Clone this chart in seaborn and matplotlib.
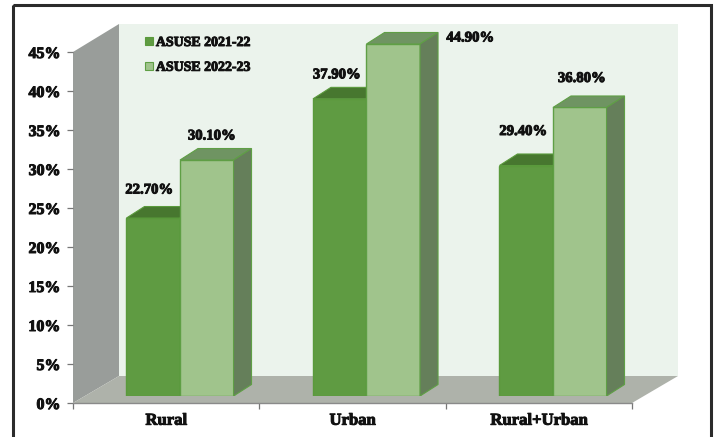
import matplotlib
matplotlib.use("Agg")
import matplotlib.pyplot as plt
import matplotlib.patheffects as pe
from matplotlib.patches import Polygon, Rectangle
from matplotlib.lines import Line2D
import pandas as pd
import seaborn as sns

areas = ["Rural", "Urban", "Rural+Urban"]
survey_names = ["ASUSE 2021-22", "ASUSE 2022-23"]
share_2021 = [22.7, 37.9, 29.4]
share_2022 = [30.1, 44.9, 36.8]
y_ticks = [0, 5, 10, 15, 20, 25, 30, 35, 40, 45]

FRONT = {"ASUSE 2021-22": "#5f9b42", "ASUSE 2022-23": "#a0c48c"}
TOP = {"ASUSE 2021-22": "#47772f", "ASUSE 2022-23": "#6f9462"}
SIDE = {"ASUSE 2021-22": "#47772f", "ASUSE 2022-23": "#657f5a"}
EDGE = {"ASUSE 2021-22": "#5a9a3c", "ASUSE 2022-23": "#5f9f45"}

W, H = 716, 437
sns.set_theme(style="white")
plt.rcParams["font.family"] = ["Liberation Serif", "DejaVu Serif"]
plt.rcParams["font.weight"] = "bold"

df = pd.DataFrame({
    "area": areas * 2,
    "share": share_2021 + share_2022,
    "survey": [survey_names[0]] * 3 + [survey_names[1]] * 3,
})

fig = plt.figure(figsize=(W / 100, H / 100), dpi=100, facecolor="white")


def box(left, top, right, bottom):
    """Axes rectangle from pixel edges measured from the top-left corner."""
    return [left / W, 1 - bottom / H, (right - left) / W, (bottom - top) / H]


heavy = [pe.withStroke(linewidth=0.7, foreground="#111111")]

# Room behind the bars: back wall, side wall, floor and outer frame
room = fig.add_axes([0, 0, 1, 1], zorder=0)
room.set_xlim(0, W)
room.set_ylim(H, 0)
room.axis("off")
room.add_patch(Rectangle((119, 24), 559, 352, fc="#ebf3ec", ec="none"))
room.add_patch(Polygon([(73, 52), (119, 24), (119, 376), (73, 403)], fc="#999d9a", ec="none"))
room.add_patch(Polygon([(73, 403), (119, 376), (678, 376), (632, 403)], fc="#aeb2aa", ec="none"))
room.add_patch(Rectangle((12.5, 5), 698, 440, fc="none", ec="#2b2b2b", lw=2.2, clip_on=False))

# Value axis and category axis along the front edge of the room
scale = fig.add_axes(box(73, 52, 632, 403), zorder=1)
scale.patch.set_alpha(0)
scale.set_xlim(0, 3)
scale.set_ylim(0, 45)
sns.despine(ax=scale)
scale.spines["bottom"].set_color("#8a8a8a")
scale.spines["bottom"].set_linewidth(1)
scale.spines["left"].set_visible(False)
scale.set_yticks(y_ticks)
scale.set_yticklabels([f"{v}%" for v in y_ticks], fontsize=11.5, color="#111111",
                      fontweight="bold", path_effects=heavy)
scale.set_xticks([0, 1, 2, 3])
scale.set_xticklabels([])
scale.set_xticks([0.5, 1.5, 2.5], minor=True)
scale.set_xticklabels(areas, minor=True, fontsize=12, color="#111111",
                      fontweight="bold", path_effects=heavy)
scale.tick_params(axis="both", which="major", length=4, width=0.9, color="#777777",
                  left=True, bottom=True, pad=5)
scale.tick_params(axis="x", which="minor", length=0, pad=7)

# Bars sit slightly in front of the axis plane
ax = fig.add_axes(box(86.75, 4, 646.25, 396), zorder=2)
ax.patch.set_alpha(0)
sns.barplot(data=df, x="area", y="share", hue="survey", palette=FRONT, width=0.574,
            gap=0, saturation=1, legend=False, ax=ax)
ax.set_xlim(-0.5, 2.5)
ax.set_ylim(0, 50)
ax.axis("off")

# Extrude each front face into a box and write its value above it
depth_x = 18 / 186.5
depth_y = 11.5 / 7.84
label_offset = {
    "ASUSE 2021-22": [(-4, 28), (-3, 24), (-3, 34)],
    "ASUSE 2022-23": [(5, 24), (77, 6), (2, 29)],
}
for level, (container, name) in enumerate(zip(ax.containers, survey_names)):
    z = 3 + level
    for i, bar in enumerate(container):
        x0, x1 = bar.get_x(), bar.get_x() + bar.get_width()
        h = bar.get_height()
        bar.set_edgecolor(EDGE[name])
        bar.set_linewidth(1)
        bar.set_zorder(z)
        ax.add_patch(Polygon([(x0, h), (x0 + depth_x, h + depth_y), (x1 + depth_x, h + depth_y), (x1, h)],
                             fc=TOP[name], ec=EDGE[name], lw=0.8, zorder=z))
        ax.add_patch(Polygon([(x1, 0), (x1 + depth_x, depth_y), (x1 + depth_x, h + depth_y), (x1, h)],
                             fc=SIDE[name], ec=EDGE[name], lw=0.8, zorder=z))
        ax.annotate(f"{h:.2f}%", xy=((x0 + x1) / 2, h), xytext=label_offset[name][i],
                    textcoords="offset pixels", ha="center", va="center", fontsize=10.6,
                    color="#111111", fontweight="bold", path_effects=heavy, zorder=8,
                    annotation_clip=False)

handles = [
    Line2D([], [], ls="none", marker="s", ms=5.5, mfc=FRONT[n], mec=EDGE[n], mew=0.8, label=n)
    for n in survey_names
]
legend = fig.legend(handles=handles, loc="upper left", bbox_to_anchor=(142 / W, 1 - 36 / H),
                    frameon=False, fontsize=10, labelspacing=0.85, handletextpad=0.0, borderpad=0,
                    borderaxespad=0, handlelength=1.0, labelcolor="#111111")
for text in legend.get_texts():
    text.set_path_effects(heavy)

fig.savefig("out.png", dpi=100, facecolor="white")
